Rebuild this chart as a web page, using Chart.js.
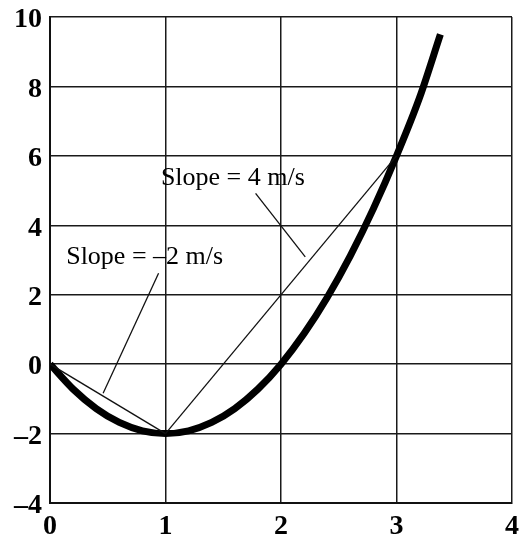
<!DOCTYPE html>
<html>
<head>
<meta charset="utf-8">
<script src="https://cdn.jsdelivr.net/npm/chart.js@4/dist/chart.umd.min.js"></script>
<style>
  html, body { margin: 0; padding: 0; background: #fff; }
  #wrap { width: 519px; height: 540px; }
</style>
</head>
<body>
<div id="wrap"><canvas id="chart"></canvas></div>
<script>
// time (s) and position (m)
const times = [0, 0.2, 0.4, 0.6, 0.8, 1.0, 1.2, 1.4, 1.6, 1.8, 2.0, 2.2, 2.4, 2.6, 2.8, 3.0, 3.2, 3.38];
const positions = [0, -0.72, -1.28, -1.68, -1.92, -2, -1.92, -1.68, -1.28, -0.72, 0, 0.88, 1.92, 3.12, 4.48, 6, 7.68, 9.5];

// secant chords
const chordA = [{ x: 0, y: 0 }, { x: 1, y: -2 }];
const chordB = [{ x: 1, y: -2 }, { x: 3, y: 6 }];

// leader lines from the labels to the chords
const leaderA = [{ x: 0.94, y: 2.62 }, { x: 0.46, y: -0.84 }];
const leaderB = [{ x: 1.78, y: 4.92 }, { x: 2.21, y: 3.09 }];

const xTicks = [0, 1, 2, 3, 4];
const yTicks = [-4, -2, 0, 2, 4, 6, 8, 10];

const labels = [
  { text: "Slope = 4 m/s", x: 0.96, y: 5.36 },
  { text: "Slope = \u20132 m/s", x: 0.14, y: 3.09 }
];

const curve = times.map((t, i) => ({ x: t, y: positions[i] }));

const labelPlugin = {
  id: "slopeLabels",
  afterDatasetsDraw(chart) {
    const { ctx, scales } = chart;
    ctx.save();
    ctx.font = "26px 'Liberation Serif'";
    ctx.fillStyle = "#000";
    ctx.textBaseline = "middle";
    ctx.textAlign = "left";
    labels.forEach((l) => {
      ctx.fillText(l.text, scales.x.getPixelForValue(l.x), scales.y.getPixelForValue(l.y));
    });
    ctx.restore();
  }
};

const thin = { borderColor: "#111", borderWidth: 1.3, pointRadius: 0, fill: false, tension: 0 };

new Chart(document.getElementById("chart"), {
  type: "scatter",
  data: {
    datasets: [
      { ...thin, data: chordA, showLine: true },
      { ...thin, data: chordB, showLine: true },
      { ...thin, data: leaderA, showLine: true },
      { ...thin, data: leaderB, showLine: true },
      {
        data: curve,
        showLine: true,
        borderColor: "#000",
        borderWidth: 7,
        borderCapStyle: "butt",
        pointRadius: 0,
        tension: 0.4,
        cubicInterpolationMode: "monotone"
      }
    ]
  },
  options: {
    responsive: true,
    maintainAspectRatio: false,
    animation: false,
    layout: { padding: { top: 17, right: 7, left: 0, bottom: 0 } },
    plugins: { legend: { display: false }, tooltip: { enabled: false } },
    scales: {
      x: {
        type: "linear",
        min: 0,
        max: 4,
        afterBuildTicks: (axis) => { axis.ticks = xTicks.map((v) => ({ value: v })); },
        afterFit: (axis) => {
          axis.height = 37;
          axis.paddingLeft = 0;
          axis.paddingRight = 0;
        },
        grid: { color: "#1a1a1a", lineWidth: 1.5, drawTicks: false },
        border: { display: true, color: "#111", width: 2 },
        ticks: {
          color: "#000",
          padding: 7,
          font: { family: "'Liberation Serif'", size: 28, weight: "bold" }
        }
      },
      y: {
        type: "linear",
        min: -4,
        max: 10,
        afterBuildTicks: (axis) => { axis.ticks = yTicks.map((v) => ({ value: v })); },
        afterFit: (axis) => {
          axis.width = 50;
          axis.paddingTop = 0;
          axis.paddingBottom = 0;
        },
        grid: { color: "#1a1a1a", lineWidth: 1.5, drawTicks: false },
        border: { display: true, color: "#111", width: 2 },
        ticks: {
          color: "#000",
          padding: 8,
          labelOffset: 3,
          font: { family: "'Liberation Serif'", size: 28, weight: "bold" },
          callback: (v) => (v < 0 ? "\u2013" + Math.abs(v) : String(v))
        }
      }
    }
  },
  plugins: [labelPlugin]
});
</script>
</body>
</html>
